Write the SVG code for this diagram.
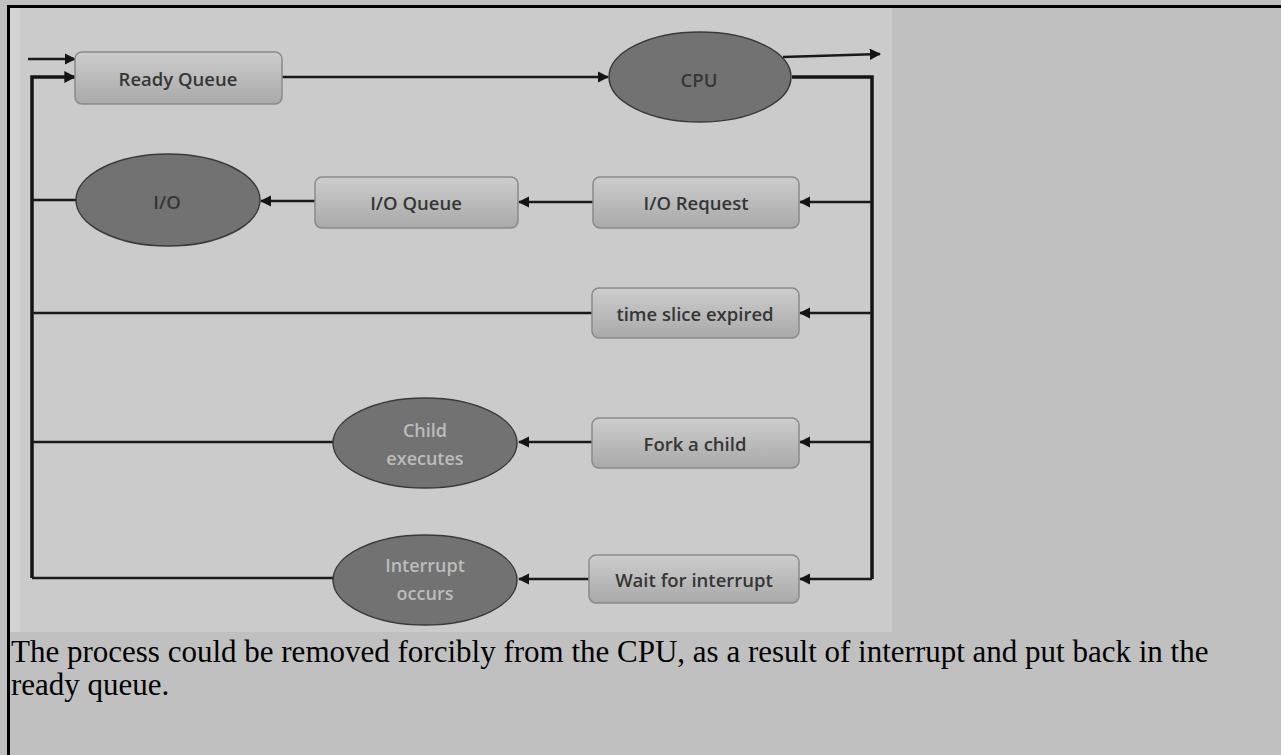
<svg xmlns="http://www.w3.org/2000/svg" width="1281" height="755" viewBox="0 0 1281 755">
  <style>
    .box { fill: url(#boxFill); stroke: #8a8a8a; stroke-width: 1.5; }
    .oval { fill: #727272; stroke: #3a3a3a; stroke-width: 1.5; }
    .lbl { font-family: "Open Sans", "Liberation Sans", sans-serif; font-size: 18.5px; font-weight: 600; fill: #363636; text-anchor: middle; dominant-baseline: central; }
    .lbl-light { font-family: "Open Sans", "Liberation Sans", sans-serif; font-size: 18px; font-weight: 600; fill: #bcbcbc; text-anchor: middle; dominant-baseline: central; }
    .wire { fill: none; stroke: #141414; stroke-width: 3.5; }
    .wire-thin { fill: none; stroke: #1a1a1a; stroke-width: 2.5; }
    .caption { font-family: "Liberation Serif", "Times New Roman", serif; font-size: 31px; fill: #000; }
  </style>
  <defs>
    <linearGradient id="boxFill" x1="0" y1="0" x2="0" y2="1">
      <stop offset="0" stop-color="#cdcdcd"/>
      <stop offset="1" stop-color="#a9a9a9"/>
    </linearGradient>
    <marker id="head" viewBox="0 0 10 10" refX="9" refY="5" markerWidth="4.6" markerHeight="4.6" orient="auto" markerUnits="strokeWidth">
      <path d="M0,0 L10,5 L0,10 z" fill="#141414"/>
    </marker>
    <marker id="head-wide" viewBox="0 0 10 10" refX="9" refY="5" markerWidth="3.4" markerHeight="3.4" orient="auto" markerUnits="strokeWidth">
      <path d="M0,0 L10,5 L0,10 z" fill="#141414"/>
    </marker>
  </defs>

  <!-- page background and cell borders -->
  <rect x="0" y="0" width="1281" height="755" fill="#c0c0c0"/>
  <rect x="10" y="8" width="882" height="624" fill="#cbcbcb"/>
  <rect x="10" y="8" width="10" height="624" fill="#d2d2d2"/>
  <line x1="8.5" y1="5" x2="8.5" y2="755" stroke="#000" stroke-width="3"/>
  <line x1="7" y1="6.5" x2="1281" y2="6.5" stroke="#000" stroke-width="3"/>

  <!-- connectors -->
  <g id="connectors">
    <line class="wire-thin" x1="28" y1="59" x2="75" y2="59" marker-end="url(#head)"/>
    <polyline class="wire" points="32,578 32,77 75,77" marker-end="url(#head-wide)"/>
    <line class="wire-thin" x1="282" y1="77" x2="608" y2="77" marker-end="url(#head)"/>
    <line class="wire-thin" x1="783" y1="57" x2="880" y2="54" marker-end="url(#head)"/>
    <polyline class="wire" points="792,77 872,77 872,579"/>
    <line class="wire-thin" x1="872" y1="202" x2="800" y2="202" marker-end="url(#head)"/>
    <line class="wire-thin" x1="593" y1="202" x2="519" y2="202" marker-end="url(#head)"/>
    <line class="wire-thin" x1="315" y1="201" x2="261" y2="201" marker-end="url(#head)"/>
    <line class="wire-thin" x1="76" y1="200" x2="32" y2="200"/>
    <line class="wire-thin" x1="872" y1="313" x2="800" y2="313" marker-end="url(#head)"/>
    <line class="wire-thin" x1="592" y1="313" x2="32" y2="313"/>
    <line class="wire-thin" x1="872" y1="442" x2="800" y2="442" marker-end="url(#head)"/>
    <line class="wire-thin" x1="592" y1="442" x2="519" y2="442" marker-end="url(#head)"/>
    <line class="wire-thin" x1="333" y1="442" x2="32" y2="442"/>
    <line class="wire-thin" x1="872" y1="579" x2="800" y2="579" marker-end="url(#head)"/>
    <line class="wire-thin" x1="589" y1="579" x2="519" y2="579" marker-end="url(#head)"/>
    <line class="wire-thin" x1="333" y1="578" x2="32" y2="578"/>
  </g>

  <!-- nodes -->
  <g id="ready-queue">
    <rect class="box" x="75" y="52" width="207" height="52" rx="7"/>
    <text class="lbl" x="178" y="78">Ready Queue</text>
  </g>
  <g id="cpu">
    <ellipse class="oval" cx="700" cy="77" rx="91" ry="45"/>
    <text class="lbl" x="699" y="79" font-size="17">CPU</text>
  </g>
  <g id="io">
    <ellipse class="oval" cx="168" cy="200" rx="92" ry="46"/>
    <text class="lbl" x="167" y="201">I/O</text>
  </g>
  <g id="io-queue">
    <rect class="box" x="315" y="177" width="203" height="51" rx="7"/>
    <text class="lbl" x="416" y="202">I/O Queue</text>
  </g>
  <g id="io-request">
    <rect class="box" x="593" y="177" width="206" height="51" rx="7"/>
    <text class="lbl" x="696" y="202">I/O Request</text>
  </g>
  <g id="time-slice">
    <rect class="box" x="592" y="288" width="207" height="50" rx="7"/>
    <text class="lbl" x="695" y="313">time slice expired</text>
  </g>
  <g id="fork-child">
    <rect class="box" x="592" y="418" width="207" height="50" rx="7"/>
    <text class="lbl" x="695" y="443">Fork a child</text>
  </g>
  <g id="child-executes">
    <ellipse class="oval" cx="425" cy="443" rx="92" ry="45"/>
    <text class="lbl-light" x="425" y="430">Child</text>
    <text class="lbl-light" x="425" y="458">executes</text>
  </g>
  <g id="wait-interrupt">
    <rect class="box" x="589" y="555" width="210" height="48" rx="7"/>
    <text class="lbl" x="694" y="579">Wait for interrupt</text>
  </g>
  <g id="interrupt-occurs">
    <ellipse class="oval" cx="425" cy="580" rx="92" ry="45"/>
    <text class="lbl-light" x="425" y="565">Interrupt</text>
    <text class="lbl-light" x="425" y="593">occurs</text>
  </g>

  <!-- caption -->
  <text class="caption" x="11" y="662">The process could be removed forcibly from the CPU, as a result of interrupt and put back in the</text>
  <text class="caption" x="11" y="695">ready queue.</text>
</svg>
